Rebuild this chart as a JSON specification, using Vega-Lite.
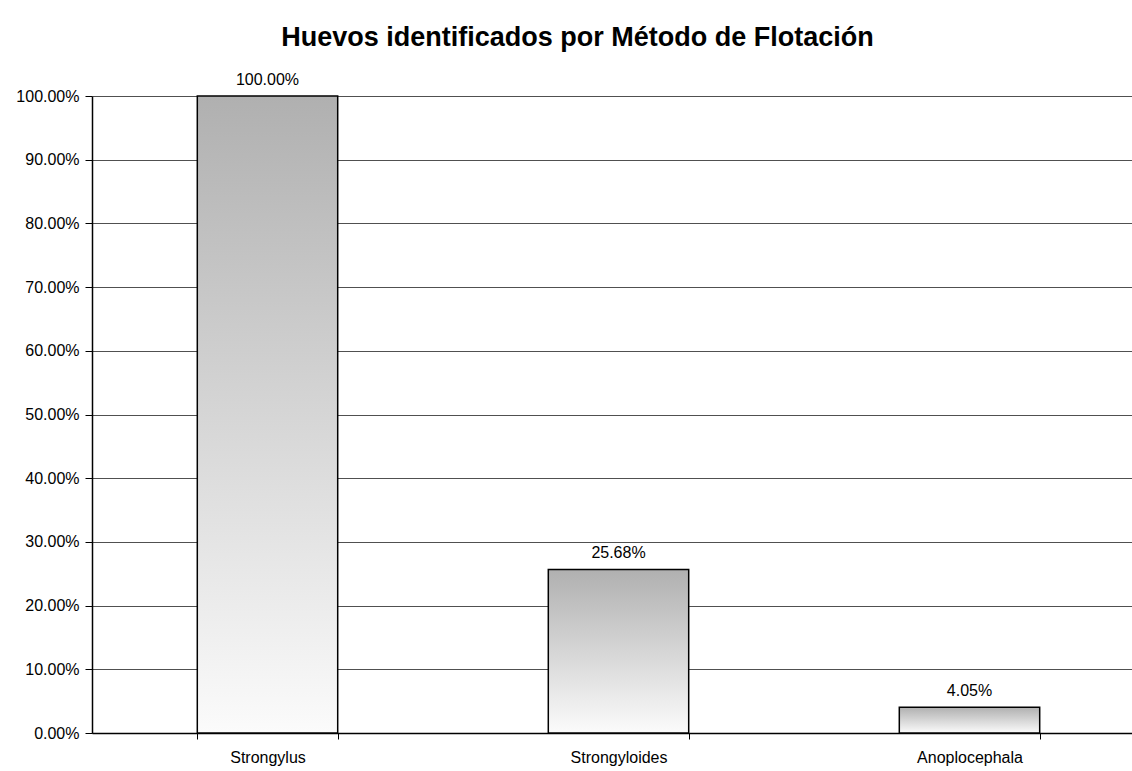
{
  "$schema": "https://vega.github.io/schema/vega-lite/v6.json",
  "width": 1053,
  "height": 637,
  "autosize": {"type": "none"},
  "padding": {"left": 92, "top": 96, "right": 0, "bottom": 38},
  "background": "white",
  "config": {
    "font": "Liberation Sans",
    "view": {"stroke": null}
  },
  "title": {
    "text": "Huevos identificados por Método de Flotación",
    "fontSize": 27,
    "fontWeight": "bold",
    "font": "Liberation Sans",
    "color": "black",
    "anchor": "middle",
    "frame": "group",
    "dx": -41,
    "offset": 20
  },
  "data": {
    "values": [
      {"genus": "Strongylus", "pct": 1.0},
      {"genus": "Strongyloides", "pct": 0.2568},
      {"genus": "Anoplocephala", "pct": 0.0405}
    ]
  },
  "encoding": {
    "x": {
      "field": "genus",
      "type": "nominal",
      "sort": null,
      "scale": {"paddingInner": 0.6, "paddingOuter": 0.3},
      "axis": {
        "title": null,
        "labelAngle": 0,
        "labelFontSize": 16,
        "labelColor": "black",
        "labelPadding": 10,
        "tickBand": "extent",
        "tickColor": "black",
        "tickSize": 6,
        "domainColor": "black",
        "domainWidth": 1.5
      }
    },
    "y": {
      "field": "pct",
      "type": "quantitative",
      "scale": {"domain": [0, 1], "nice": false},
      "axis": {
        "title": null,
        "format": ".2%",
        "values": [0, 0.1, 0.2, 0.3, 0.4, 0.5, 0.6, 0.7, 0.8, 0.9, 1.0],
        "labelFontSize": 16,
        "labelColor": "black",
        "labelPadding": 6,
        "tickColor": "black",
        "tickSize": 7,
        "domainColor": "black",
        "domainWidth": 1.5,
        "grid": true,
        "gridColor": "#505050",
        "gridWidth": 1
      }
    }
  },
  "layer": [
    {
      "mark": {
        "type": "bar",
        "stroke": "black",
        "strokeWidth": 1.5,
        "color": {
          "gradient": "linear",
          "x1": 0, "y1": 0, "x2": 0, "y2": 1,
          "stops": [
            {"offset": 0, "color": "#b0b0b0"},
            {"offset": 1, "color": "#fbfbfb"}
          ]
        }
      }
    },
    {
      "mark": {"type": "text", "baseline": "bottom", "dy": -8, "fontSize": 16, "color": "black"},
      "encoding": {
        "text": {"field": "pct", "type": "quantitative", "format": ".2%"}
      }
    }
  ]
}
